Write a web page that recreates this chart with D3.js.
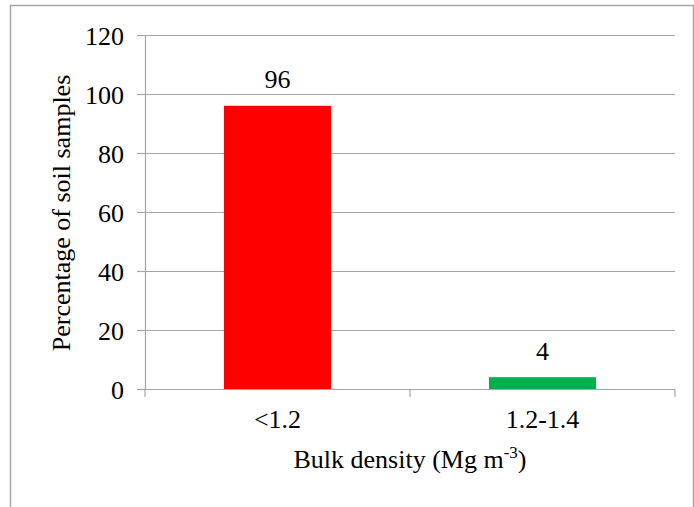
<!DOCTYPE html>
<html>
<head>
<meta charset="utf-8">
<script src="https://cdn.jsdelivr.net/npm/d3@7"></script>
<style>
  html, body { margin: 0; padding: 0; background: #fff; }
  svg { display: block; }
  svg text { font-family: "Liberation Serif", "Times New Roman", serif !important; fill: #000; }
</style>
</head>
<body>
<script>
// Share of soil samples in each bulk density class
const categories = ["<1.2", "1.2-1.4"];
const percentages = [96, 4];
const barColors = ["#ff0000", "#00b050"];
const yTicks = [0, 20, 40, 60, 80, 100, 120];

const W = 694, H = 507;
const plot = { left: 145, right: 675, top: 35, bottom: 389 };
const FS = 26;
const GRID = "#a6a6a6";

const svg = d3.select("body").append("svg")
  .attr("width", W).attr("height", H);

// chart frame (open at the bottom edge)
svg.append("path")
  .attr("d", `M10.5,${H} V5.5 H693.5 V${H}`)
  .attr("fill", "none").attr("stroke", GRID).attr("stroke-width", 1.5);

const x = d3.scaleBand()
  .domain(categories)
  .range([plot.left, plot.right])
  .paddingInner(0.596)
  .paddingOuter(0.298);

const y = d3.scaleLinear()
  .domain([0, 120])
  .range([plot.bottom, plot.top]);

// horizontal gridlines
svg.append("g").selectAll("line")
  .data(yTicks.filter(t => t > 0))
  .join("line")
  .attr("x1", plot.left).attr("x2", plot.right)
  .attr("y1", d => Math.round(y(d)) + 0.5).attr("y2", d => Math.round(y(d)) + 0.5)
  .attr("stroke", GRID).attr("stroke-width", 1.2);

// value axis with left ticks
const yAxis = svg.append("g")
  .attr("transform", `translate(${plot.left},0)`)
  .call(d3.axisLeft(y).tickValues(yTicks).tickSize(8).tickPadding(13).tickSizeOuter(0));
yAxis.select(".domain").attr("stroke", GRID).attr("stroke-width", 1.2);
yAxis.selectAll(".tick line").attr("stroke", GRID).attr("stroke-width", 1.2);
yAxis.selectAll(".tick text")
  .style("font-size", FS + "px")
  .attr("dy", "0.35em");

// bars
svg.append("g").selectAll("rect")
  .data(percentages)
  .join("rect")
  .attr("x", (d, i) => x(categories[i]))
  .attr("width", x.bandwidth())
  .attr("y", d => y(d))
  .attr("height", d => y(0) - y(d))
  .attr("fill", (d, i) => barColors[i]);

// category axis with separator ticks
const step = x.step();
const sepX = [plot.left, plot.left + step, plot.left + 2 * step];
svg.append("line")
  .attr("x1", plot.left - 8).attr("x2", plot.right)
  .attr("y1", y(0) + 0.5).attr("y2", y(0) + 0.5)
  .attr("stroke", GRID).attr("stroke-width", 1.2);
svg.append("g").selectAll("line")
  .data(sepX)
  .join("line")
  .attr("x1", d => d).attr("x2", d => d)
  .attr("y1", y(0)).attr("y2", y(0) + 8)
  .attr("stroke", GRID).attr("stroke-width", 1.2);

svg.append("g").selectAll("text")
  .data(categories)
  .join("text")
  .attr("x", d => x(d) + x.bandwidth() / 2)
  .attr("y", y(0) + 39)
  .attr("text-anchor", "middle")
  .style("font-size", FS + "px")
  .text(d => d);

// value labels
svg.append("g").selectAll("text")
  .data(percentages)
  .join("text")
  .attr("x", (d, i) => x(categories[i]) + x.bandwidth() / 2)
  .attr("y", d => y(d) - 17.5)
  .attr("text-anchor", "middle")
  .style("font-size", FS + "px")
  .text(d => d);

// axis titles
const xt = svg.append("text")
  .attr("x", (plot.left + plot.right) / 2)
  .attr("y", 468)
  .attr("text-anchor", "middle")
  .style("font-size", FS + "px");
xt.append("tspan").text("Bulk density (Mg m");
xt.append("tspan").style("font-size", "17px").attr("dy", -10).text("-3");
xt.append("tspan").attr("dy", 10).text(")");

svg.append("text")
  .attr("transform", `translate(70,213) rotate(-90)`)
  .attr("text-anchor", "middle")
  .style("font-size", FS + "px")
  .text("Percentage of soil samples");
</script>
</body>
</html>
